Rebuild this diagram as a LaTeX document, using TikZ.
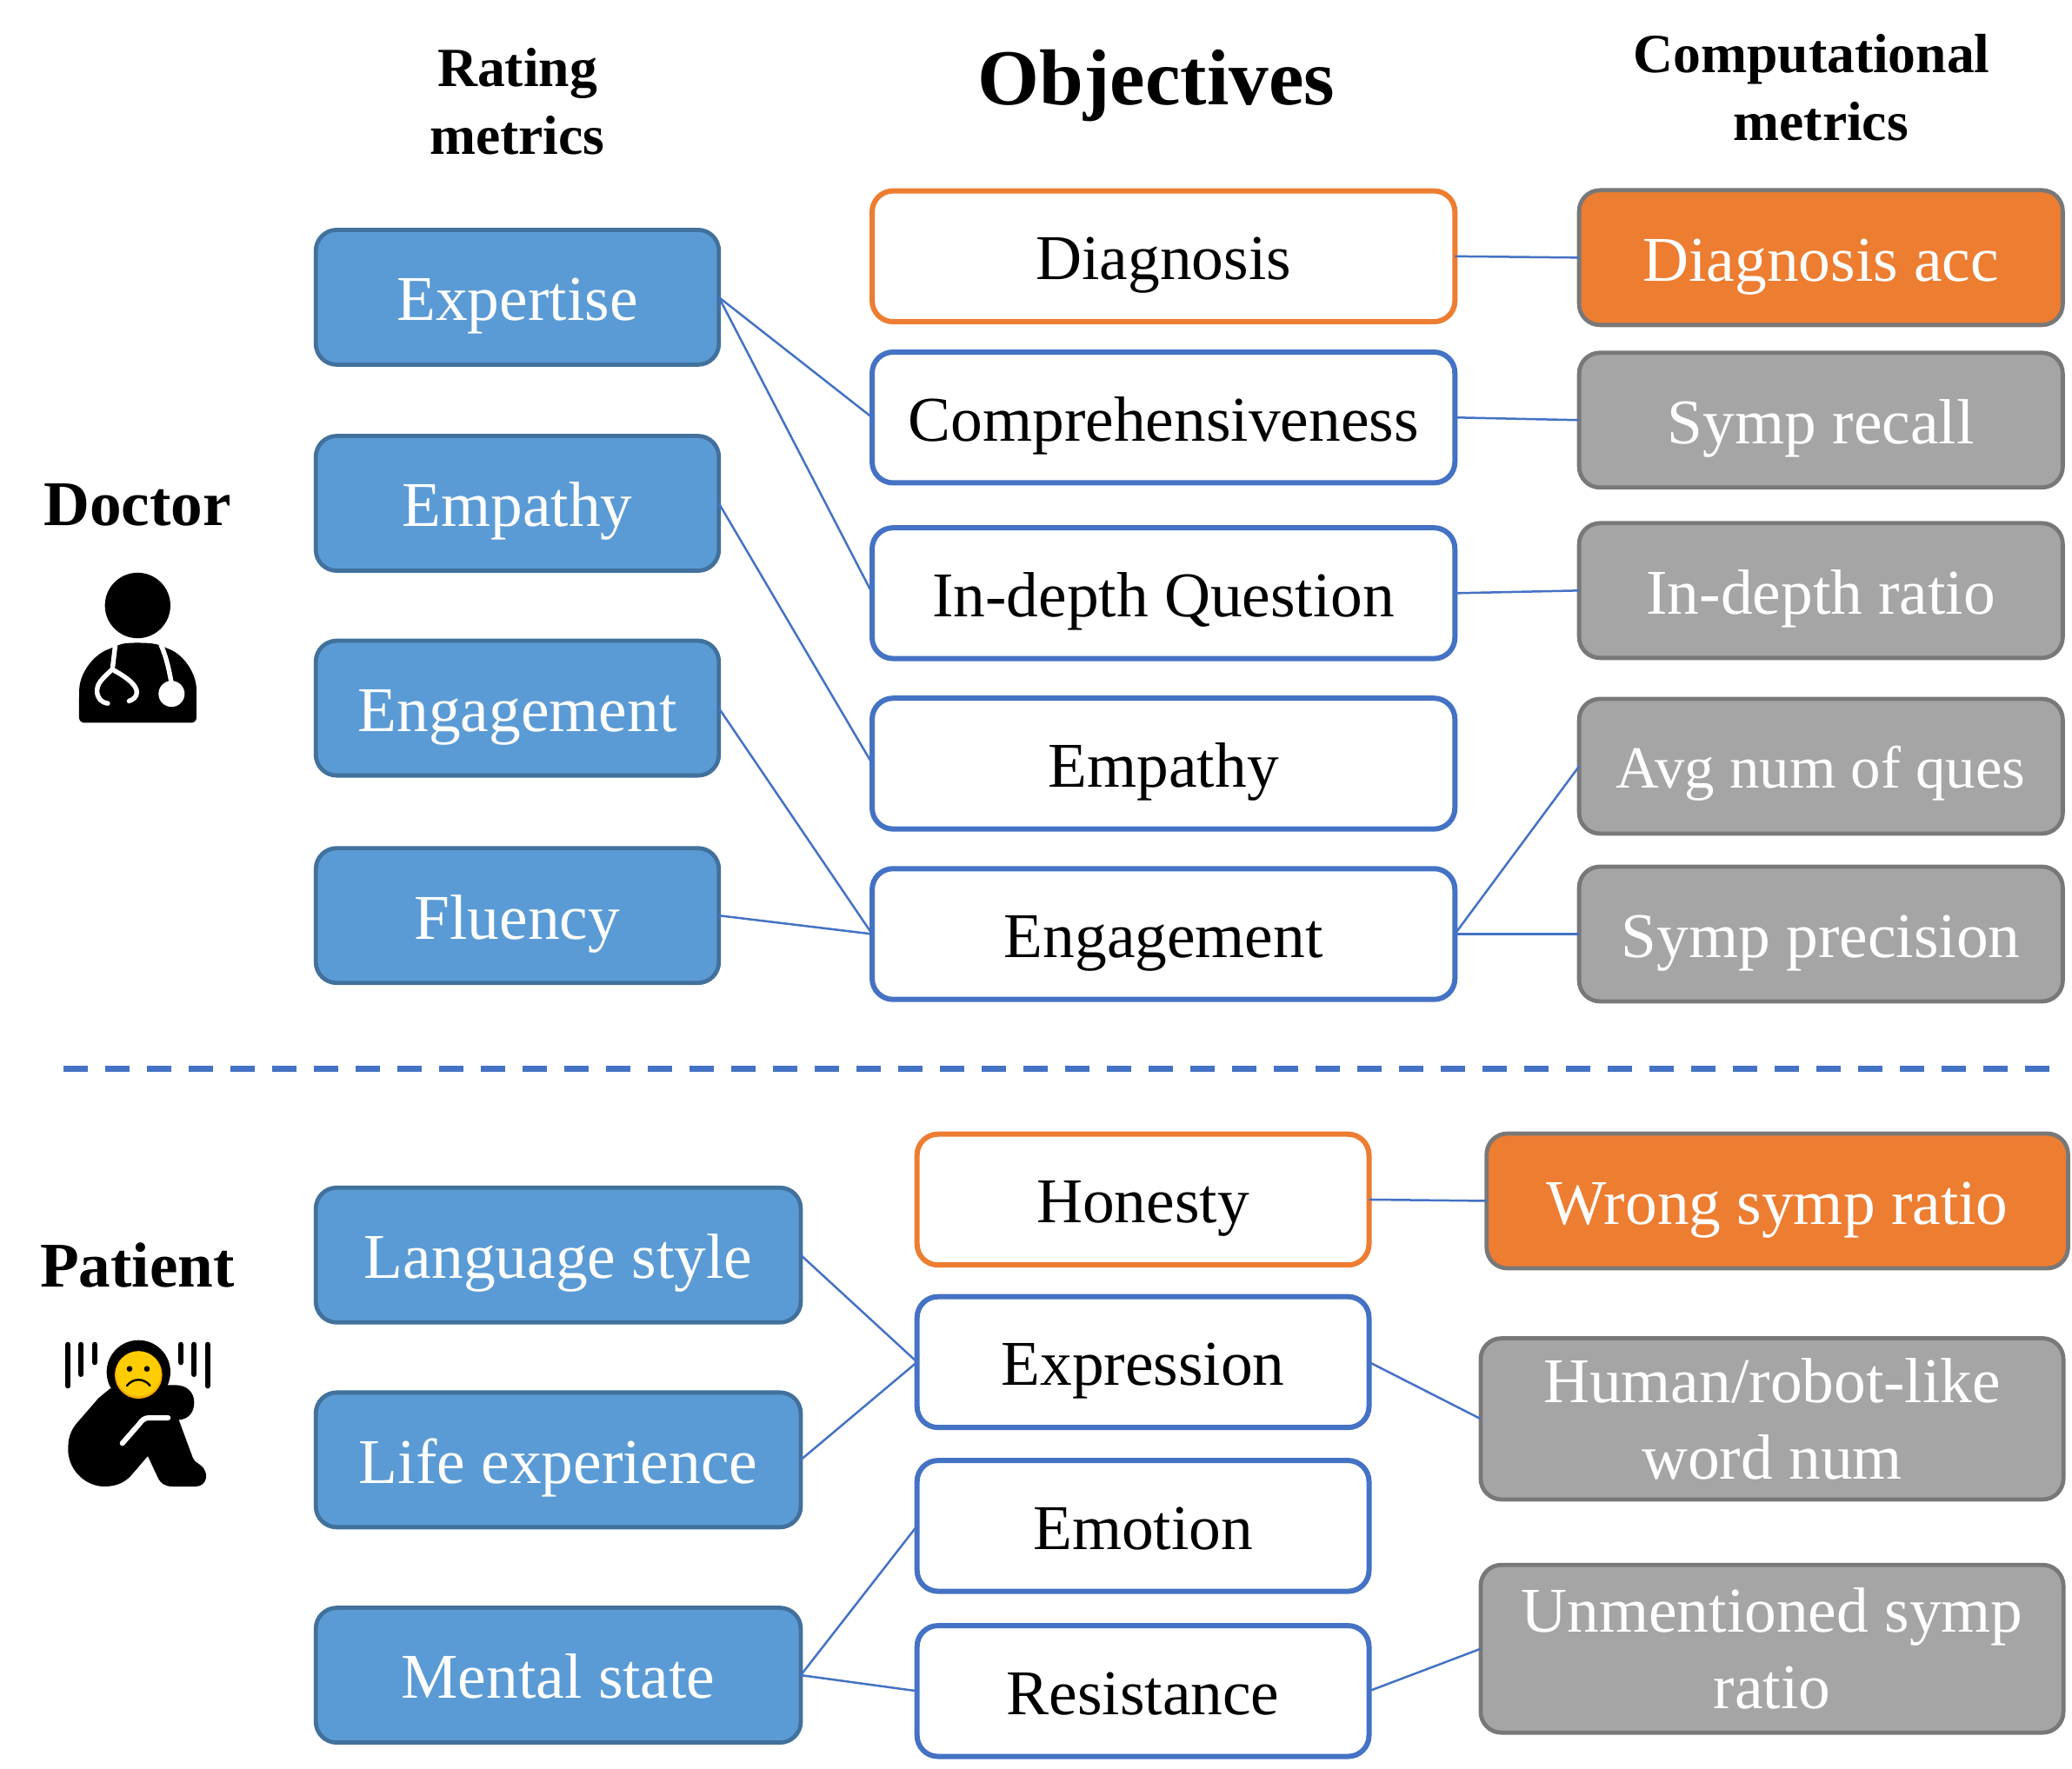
\documentclass[tikz,border=0pt]{standalone}
\usepackage{fontspec}
\setmainfont{Liberation Serif}
\usetikzlibrary{calc}
\definecolor{rateblue}{HTML}{5B9BD5}
\definecolor{rateedge}{HTML}{41719C}
\definecolor{objblue}{HTML}{4472C4}
\definecolor{objorange}{HTML}{ED7D31}
\definecolor{compgray}{HTML}{A5A5A5}
\definecolor{compedge}{HTML}{787878}
\definecolor{faceyellow}{HTML}{FFCC00}
\definecolor{faceshade}{HTML}{F5A800}
\newcommand{\unit}{0.76pt}
\tikzset{
  basebox/.style={rectangle, rounded corners=12pt, inner sep=0pt, outer sep=0pt, line width=2.4pt,
    align=center, font=\fontsize{36.7}{44}\selectfont},
  oneline/.style={text height=33pt, text depth=6.2pt},
  ratebox/.style={basebox, oneline, fill=rateblue, draw=rateedge, text=white,
    minimum width=#1*\unit, minimum height=102*\unit},
  ratebox/.default=305,
  objbox/.style={basebox, oneline, fill=white, draw=objblue, line width=3pt, minimum width=#1*\unit, minimum height=99*\unit},
  objbox/.default=441,
  keybox/.style={objbox=#1, draw=objorange},
  keybox/.default=441,
  compbox/.style={basebox, fill=compgray, draw=compedge, text=white,
    minimum width=#1*\unit, minimum height=102*\unit},
  compbox/.default=366,
  hotbox/.style={compbox=#1, fill=objorange},
  hotbox/.default=366,
  link/.style={objblue, line width=1.25pt},
  header/.style={font=\fontsize{31.8}{38.8}\selectfont\bfseries, align=center},
  role/.style={font=\fontsize{36.6}{44}\selectfont\bfseries}
}

\begin{document}
\begin{tikzpicture}[x=\unit, y=-\unit]
  \useasboundingbox (0,0) rectangle (1568,1339);

  % Headers
  \node[header] (ratinghead) at (391.5,77) {Rating\\metrics};
  \node[font=\fontsize{45.6}{50}\selectfont\bfseries] (objhead) at (875,65) {Objectives};
  \node[header] (comphead) at (1371,45) {Computational};
  \node[header] (comphead2) at (1378,92) {metrics};

  % Roles
  \node[role] (doctor) at (104,382) {Doctor};
  \node[role] (patient) at (104,958) {Patient};

  % Doctor: rating metrics
  \node[ratebox] (expertise) at (391.5,225) {Expertise};
  \node[ratebox] (empathyrate) at (391.5,381) {Empathy};
  \node[ratebox] (engagerate) at (391.5,536) {Engagement};
  \node[ratebox] (fluency) at (391.5,693) {Fluency};

  % Doctor: objectives
  \node[keybox] (diagnosis) at (880.5,194) {Diagnosis};
  \node[objbox] (compre) at (880.5,316) {Comprehensiveness};
  \node[objbox] (indepth) at (880.5,449) {In-depth Question};
  \node[objbox] (empathyobj) at (880.5,578) {Empathy};
  \node[objbox] (engageobj) at (880.5,707) {Engagement};

  % Doctor: computational metrics
  \node[hotbox, oneline] (diagacc) at (1378,195) {Diagnosis acc};
  \node[compbox, oneline] (symprecall) at (1378,318) {Symp recall};
  \node[compbox, oneline] (depthratio) at (1378,447) {In-depth ratio};
  \node[compbox, oneline, font=\fontsize{34.4}{44}\selectfont, text height=31pt] (avgques) at (1378,580) {Avg num of ques};
  \node[compbox, oneline] (symprec) at (1378,707) {Symp precision};

  % Doctor: links
  \draw[link] (expertise.east) -- (compre.west);
  \draw[link] (expertise.east) -- (indepth.west);
  \draw[link] (empathyrate.east) -- (empathyobj.west);
  \draw[link] (engagerate.east) -- (engageobj.west);
  \draw[link] (fluency.east) -- (engageobj.west);
  \draw[link] (diagnosis.east) -- (diagacc.west);
  \draw[link] (compre.east) -- (symprecall.west);
  \draw[link] (indepth.east) -- (depthratio.west);
  \draw[link] (engageobj.east) -- (avgques.west);
  \draw[link] (engageobj.east) -- (symprec.west);

  % Separator
  \coordinate (sepleft) at (48,809);
  \coordinate (sepright) at (1556,809);
  \draw[objblue, line width=3.5pt, dash pattern=on 14pt off 10pt] (sepleft) -- (sepright);

  % Patient: rating metrics
  \node[ratebox=367] (language) at (422.5,950) {Language style};
  \node[ratebox=367] (life) at (422.5,1105) {Life experience};
  \node[ratebox=367] (mental) at (422.5,1268) {Mental state};

  % Patient: objectives
  \node[keybox=342] (honesty) at (865,908) {Honesty};
  \node[objbox=342] (expression) at (865,1031) {Expression};
  \node[objbox=342] (emotion) at (865,1155) {Emotion};
  \node[objbox=342] (resistance) at (865,1280) {Resistance};

  % Patient: computational metrics
  \node[hotbox=440, oneline] (wrongsymp) at (1345,909) {Wrong symp ratio};
  \node[compbox=441, minimum height=122*\unit] (humanrobot) at (1341,1074) {Human/robot-like\\word num};
  \node[compbox=441, minimum height=127*\unit] (unmentioned) at (1341,1248) {Unmentioned symp\\ratio};

  % Patient: links
  \draw[link] (language.east) -- (expression.west);
  \draw[link] (life.east) -- (expression.west);
  \draw[link] (mental.east) -- (emotion.west);
  \draw[link] (mental.east) -- (resistance.west);
  \draw[link] (honesty.east) -- (wrongsymp.west);
  \draw[link] (expression.east) -- (humanrobot.west);
  \draw[link] (resistance.east) -- (unmentioned.west);

  % Doctor icon
  \begin{scope}[shift={(0,394.7)}, scale=0.2193]
    \fill (475,290) circle (113);
    \fill[rounded corners=3pt] (273,695) -- (273,600) .. controls (275,520) and (325,460) .. (388,436)
      -- (412,424) .. controls (450,418) and (500,418) .. (545,424) -- (572,436)
      .. controls (630,460) and (678,520) .. (678,600) -- (678,695) -- cycle;
    \draw[white, line width=2.7pt, line cap=round] (398,425) -- (388,510)
      .. controls (350,545) and (335,560) .. (335,585) .. controls (335,610) and (350,625) .. (372,628);
    \draw[white, line width=2.7pt, line cap=round] (395,515)
      .. controls (440,540) and (472,565) .. (472,590) .. controls (472,605) and (460,615) .. (445,620);
    \draw[white, line width=2.7pt] (555,425) .. controls (575,470) and (585,520) .. (592,560);
    \fill[white] (592,595) circle (45);
  \end{scope}

  % Patient icon
  \begin{scope}[shift={(0,987)}, scale=0.2193]
    \draw[line width=3pt, line cap=round] (234,140) -- (234,283) (280,140) -- (280,243) (327,140) -- (327,202);
    \draw[line width=3pt, line cap=round] (624,140) -- (624,202) (670,140) -- (670,243) (716,140) -- (716,283);
    \fill (478,235) circle (110);
    \fill (380,292) -- (340,325) -- (262,415) .. controls (235,450) and (235,480) .. (235,510)
      .. controls (240,580) and (300,630) .. (360,630) .. controls (395,630) and (425,620) .. (450,595)
      -- (510,525) -- (545,600) .. controls (555,620) and (570,630) .. (595,630) -- (675,630)
      .. controls (715,630) and (725,580) .. (690,555) .. controls (680,548) and (672,545) .. (665,530)
      -- (617,400) .. controls (650,398) and (670,375) .. (670,340) .. controls (670,305) and (645,280) .. (605,280)
      -- (560,280) -- cycle;
    \draw[white, line width=3pt, line cap=round] (422,481) -- (480,415) .. controls (490,400) and (500,393) .. (515,393) -- (580,393);
    \fill[faceshade] (478,245) circle (82);
    \fill[faceyellow] (478,241) circle (78);
    \fill (447,224) circle (10);
    \fill (507,224) circle (10);
    \draw[line width=1.2pt, line cap=round] (438,282) .. controls (460,255) and (496,255) .. (518,282);
  \end{scope}
\end{tikzpicture}
\end{document}
